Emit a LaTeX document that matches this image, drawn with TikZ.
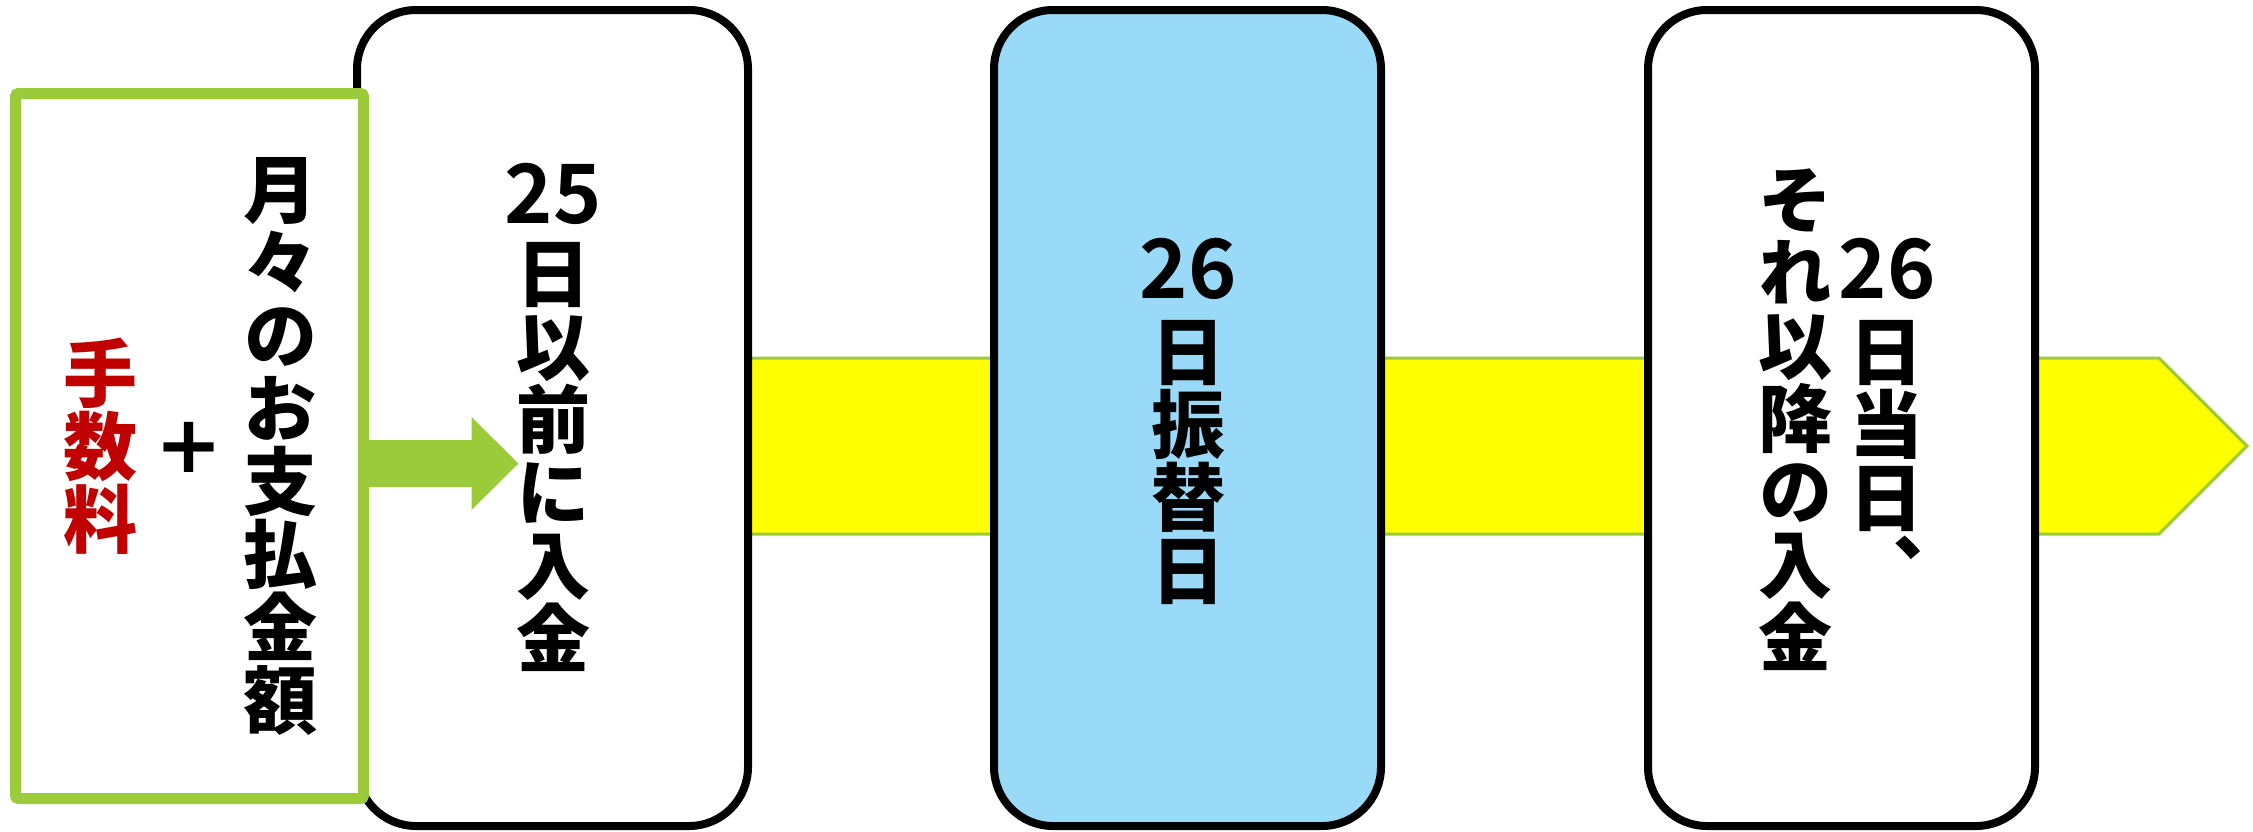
\documentclass[tikz,border=0pt]{standalone}
\usepackage{fontspec}
\usetikzlibrary{calc}
\newfontfamily\jpfont{Noto Sans CJK JP}[UprightFont=* Black, RawFeature=+vert]
\newfontfamily\digitfont{Noto Sans CJK JP}[UprightFont=* Bold]
\newfontfamily\plusfont{DejaVu Sans}[UprightFont=* Bold]
\definecolor{color_band}{HTML}{FFFF00}
\definecolor{color_band_edge}{HTML}{9BCB3B}
\definecolor{color_fee_green}{HTML}{9BCB3B}
\definecolor{color_fee_red}{HTML}{C00000}
\definecolor{color_debit_blue}{HTML}{99DAF8}
\def\jppitch{73}
\def\jpsize{\fontsize{74}{74}\selectfont}
\def\digitsize{\fontsize{82}{82}\selectfont}
\def\boxlinewidth{8pt}
\def\boxcornerradius{59pt}

\begin{document}
\begin{tikzpicture}[x=1pt,y=-1pt,
    daybox/.style={draw=black, line width=\boxlinewidth, rounded corners=\boxcornerradius, fill=white, minimum height=816pt, inner sep=0pt},
    feebox/.style={draw=color_fee_green, line width=11pt, rounded corners=3pt, fill=white, inner sep=0pt},
    jpchar/.style={font=\jpfont\jpsize, inner sep=0pt, text height=65pt, text depth=9pt},
    jpdigits/.style={font=\digitfont\digitsize, inner sep=0pt, anchor=base}]
        \useasboundingbox (0,0) rectangle (2253,831);
        % the yellow band behind the boxes
        \draw[color_band_edge, line width=3pt, fill=color_band] (600,358) -- (2159,358) -- (2247,446) -- (2159,534) -- (600,534) -- cycle;
        % the three days
        \node[daybox, minimum width=391pt] (early) at (552.5,418) {};
        \node[daybox, minimum width=387pt, fill=color_debit_blue] (debit) at (1187.5,418) {};
        \node[daybox, minimum width=387pt] (late) at (1841.5,418) {};
        % what is paid
        \node[feebox, minimum width=348pt, minimum height=705pt] (total) at (189.5,446) {};
        \coordinate (gs) at ($(total.east)+(0,17.5)$);
        \fill[color_fee_green, shift={(gs)}] (0,-23.5) -- (102.5,-23.5) -- (102.5,-46.5) -- (149.5,0) -- (102.5,46.5) -- (102.5,23.5) -- (0,23.5) -- cycle;
        % vertical texts
        \foreach \c [count=\i from 0] in {手,数,料}
            \node[jpchar, color_fee_red] (fee-c\i) at (100, 373.5+\i*\jppitch) {\c};
        \node[inner sep=0pt, font=\plusfont\fontsize{80}{80}\selectfont] (plus) at (189,447) {+};
        \foreach \c [count=\i from 0] in {月,々,の,お,支,払,金,額}
            \node[jpchar] (total-c\i) at (280, 189.8+\i*\jppitch) {\c};
        \node[jpdigits] (early-d) at (553,223) {25};
        \foreach \c [count=\i from 0] in {日,以,前,に,入,金}
            \node[jpchar] (early-c\i) at (553, 273.7+\i*\jppitch) {\c};
        \node[jpdigits] (debit-d) at (1188,298) {26};
        \foreach \c [count=\i from 0] in {日,振,替,日}
            \node[jpchar] (debit-c\i) at (1188, 351+\i*\jppitch) {\c};
        \node[jpdigits] (late-d) at (1887,298) {26};
        \foreach \c [count=\i from 0] in {日,当,日,、}
            \node[jpchar] (late-a\i) at (1886, 351+\i*\jppitch) {\c};
        \foreach \c [count=\i from 0] in {そ,れ,以,降,の,入,金}
            \node[jpchar] (late-b\i) at (1795, 199.6+\i*\jppitch) {\c};
\end{tikzpicture}
\end{document}
